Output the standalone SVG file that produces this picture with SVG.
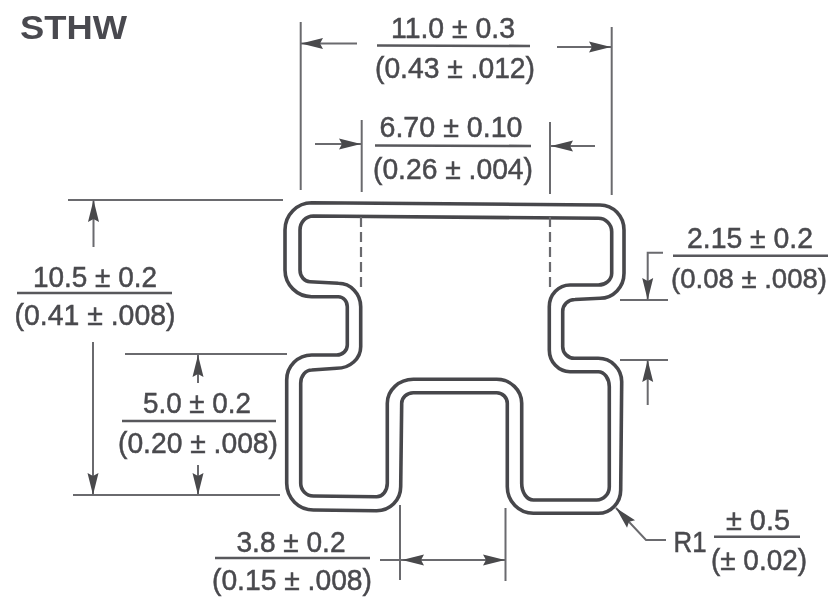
<svg xmlns="http://www.w3.org/2000/svg" width="831" height="599" viewBox="0 0 831 599">
<style>
text{font-family:"Liberation Sans",Arial,sans-serif;font-size:29px;fill:#4a4a4e;stroke:#4a4a4e;stroke-width:.5;text-anchor:middle}
#title text{font-weight:700;font-size:33px;text-anchor:start;fill:#4a4a50;stroke:none}
.sec{fill:none;stroke:#47474b;stroke-width:3.6;stroke-linejoin:round}
.ln{fill:none;stroke:#6a6a6e;stroke-width:2}
.bar{fill:none;stroke:#58585c;stroke-width:2.6}
.dash{fill:none;stroke:#6a6a6e;stroke-width:2.2;stroke-dasharray:10 5}
.ar{fill:none;stroke:#6a6a6e;stroke-width:2;marker-end:url(#ah)}
</style>
<defs>
<marker id="ah" markerUnits="userSpaceOnUse" markerWidth="24" markerHeight="14" refX="23" refY="7" orient="auto">
<path d="M1,1.5 L23,7 L1,12.5 L4,7 Z" fill="#48484c"/>
</marker>
<filter id="soft" x="-5%" y="-5%" width="110%" height="110%"><feGaussianBlur stdDeviation="0.7"/></filter>
</defs>
<rect width="831" height="599" fill="#ffffff"/>
<g filter="url(#soft)">
<g id="title"><text x="20" y="39" textLength="107" lengthAdjust="spacingAndGlyphs">STHW</text></g>
<g id="section">
<path class="sec" d="M311.7,202.7 L600,205 A24,25 0 0 1 624,230 L624,273.3 A24,25 0 0 1 600,298.3 L575,299.5 A12.3,12 0 0 0 562.7,311.7 L562.7,346.7 A11.7,11.6 0 0 0 574.4,358.3 L598.3,358.3 A23.4,23.4 0 0 1 621.7,381.7 L620.7,490 A22.4,23.3 0 0 1 598.3,513.3 L533.3,513.3 A26,26.6 0 0 1 507.3,486.7 L507.3,403.3 A10.6,10.5 0 0 0 496.7,392.8 L413.3,392.8 A11.6,10.5 0 0 0 401.7,403.3 L400.7,486.7 A24,24 0 0 1 376.7,510.7 L313.3,510 A26.6,26.7 0 0 1 286.7,483.3 L286.7,380 A25,25 0 0 1 311.7,355 L336.7,355 A10.6,10 0 0 0 347.3,345 L347.3,306.7 A9,10 0 0 0 338.3,296.7 L311.7,296.7 A26.7,26.7 0 0 1 285,270 L285,230 A26.7,27.3 0 0 1 311.7,202.7 Z"/>
<path class="sec" d="M313.3,216 L598.3,218.3 A13.4,13.4 0 0 1 611.7,231.7 L611.7,273.3 A13.4,11.7 0 0 1 598.3,285 L570,285 A20.7,21.7 0 0 0 549.3,306.7 L549.3,350 A20.7,21.7 0 0 0 570,371.7 L598.3,371.7 A11,15 0 0 1 609.3,386.7 L609.3,486.7 A12.6,13.3 0 0 1 596.7,500 L533.3,500 A11.6,16.7 0 0 1 521.7,483.3 L521.7,403.3 A25,24 0 0 0 496.7,379.3 L413.3,379.3 A26,24 0 0 0 387.3,403.3 L387.3,483.3 A10.6,13.4 0 0 1 376.7,496.7 L313.3,496 A12.6,12.7 0 0 1 300.7,483.3 L300.7,383.3 A11,13.3 0 0 1 311.7,370 L336.7,368.3 A24,21.6 0 0 0 360.7,346.7 L360.7,306.7 A22.4,23.4 0 0 0 338.3,283.3 L310,281.7 A10,11.7 0 0 1 300,270 L300,230 A13.3,14 0 0 1 313.3,216 Z"/>
</g>
<g id="dim-width">
<path class="bar" d="M377,45.5 L530,46"/>
<text x="453" y="38" textLength="124" lengthAdjust="spacingAndGlyphs">11.0 ± 0.3</text>
<text x="455" y="78" textLength="160" lengthAdjust="spacingAndGlyphs">(0.43 ± .012)</text>
</g>
<g id="dim-inner">
<path class="bar" d="M375,145.5 L531,146"/>
<text x="451" y="137" textLength="143" lengthAdjust="spacingAndGlyphs">6.70 ± 0.10</text>
<text x="453" y="179" textLength="160" lengthAdjust="spacingAndGlyphs">(0.26 ± .004)</text>
</g>
<g id="dim-height">
<path class="bar" d="M17,293 L172,293"/>
<text x="95" y="287" textLength="124" lengthAdjust="spacingAndGlyphs">10.5 ± 0.2</text>
<text x="95" y="325" textLength="161" lengthAdjust="spacingAndGlyphs">(0.41 ± .008)</text>
</g>
<g id="dim-lower">
<path class="bar" d="M122,421 L276,421"/>
<text x="197" y="413" textLength="108" lengthAdjust="spacingAndGlyphs">5.0 ± 0.2</text>
<text x="198" y="453" textLength="160" lengthAdjust="spacingAndGlyphs">(0.20 ± .008)</text>
</g>
<g id="dim-slot">
<path class="bar" d="M215,558 L370,558"/>
<text x="291" y="552" textLength="109" lengthAdjust="spacingAndGlyphs">3.8 ± 0.2</text>
<text x="292" y="590" textLength="160" lengthAdjust="spacingAndGlyphs">(0.15 ± .008)</text>
</g>
<g id="dim-lip">
<path class="bar" d="M673,255.7 L828,255.7"/>
<text x="750" y="248" textLength="126" lengthAdjust="spacingAndGlyphs">2.15 ± 0.2</text>
<text x="749" y="288" textLength="156" lengthAdjust="spacingAndGlyphs" style="font-size:27.5px">(0.08 ± .008)</text>
</g>
<g id="dim-radius">
<path class="bar" d="M714,536.7 L800,536.7"/>
<text x="690" y="552" textLength="33" lengthAdjust="spacingAndGlyphs">R1</text>
<text x="758" y="530" textLength="64" lengthAdjust="spacingAndGlyphs">± 0.5</text>
<text x="759" y="570" textLength="96" lengthAdjust="spacingAndGlyphs">(± 0.02)</text>
</g>
<g id="connectors">
<path class="ln" d="M300.7,22 V190"/>
<path class="ln" d="M611.7,27 V195"/>
<path class="ln" d="M361.7,120 V192"/>
<path class="ln" d="M550,122 V194"/>
<path class="dash" d="M361,217 V292"/>
<path class="dash" d="M550,217 V292"/>
<path class="ln" d="M68,200 H283"/>
<path class="ln" d="M125,354 H287"/>
<path class="ln" d="M73,495 H280"/>
<path class="ln" d="M620,300 H668"/>
<path class="ln" d="M620,360 H668"/>
<path class="ln" d="M400,505 V580"/>
<path class="ln" d="M505.5,508 V581"/>
<path class="ar" d="M357,43.5 H301"/>
<path class="ar" d="M557,47 H611"/>
<path class="ar" d="M315,144 H361"/>
<path class="ar" d="M595,146 H551"/>
<path class="ar" d="M93.5,247 V200"/>
<path class="ar" d="M93,342 V495"/>
<path class="ar" d="M198,383 V355"/>
<path class="ar" d="M198,465 V495"/>
<path class="ar" d="M663,252.7 H647.7 V300"/>
<path class="ar" d="M647.7,405 V360"/>
<path class="ln" d="M380,560 H402"/>
<path class="ar" d="M430,560 H402"/>
<path class="ar" d="M430,560 H505"/>
<path class="ar" d="M666,540 H646 L616,508"/>
</g>
</g>
</svg>
